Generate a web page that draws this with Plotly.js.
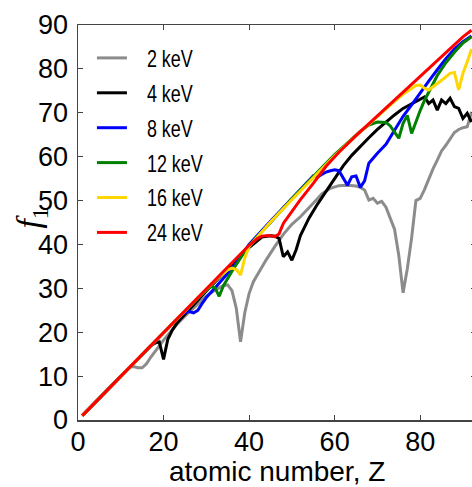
<!DOCTYPE html>
<html>
<head>
<meta charset="utf-8">
<script src="https://cdn.plot.ly/plotly-3.0.1.min.js"></script>
<style>
html,body{margin:0;padding:0;overflow:hidden;background:#fff;}
#chart{width:476px;height:487px;}
.legend .scrollbox{clip-path:none !important;}
.legendtext{transform-box:fill-box;transform-origin:left center;transform:scaleX(0.78);}
</style>
</head>
<body>
<div id="chart"></div>
<script>
// Series labels and colours
const seriesNames = ["2 keV", "4 keV", "8 keV", "12 keV", "16 keV", "24 keV"];
const seriesColors = ["#8c8c8c", "#000000", "#0000ff", "#008000", "#ffd700", "#ff0000"];

// 2 keV
const z2 = [1,5,10,12,13,14,15,16,17,18,19,20,22,24,26,28,30,32,34,35,36,37,38,39,40,41,42,44,46,48,50,52,55,57,59,61,63,65,66,67,68,69,70,71,72,73,74,75,76,77,78,79,80,81,82,83,84,85,86,87,88,89,90,91,92];
const f2 = [1,5,10,12.0,12.2,11.9,11.9,12.8,14.3,15.6,17.0,18.2,20.5,22.7,24.6,26.5,28.2,29.6,30.6,30.8,29.5,25.5,17.8,24.5,28.8,31.5,33.2,36.5,39.5,42.3,44.6,46.3,49.4,51.5,52.8,53.4,53.5,53.3,53.0,52.4,50.1,50.5,49.4,49.8,48.5,46.0,43.5,37.5,29.0,34.5,41.5,50.0,50.5,52.5,55.0,57.2,59.2,61.3,62.6,64.2,65.5,66.2,66.6,66.8,70.2];

// 4 keV
const z4 = [1,5,10,15,17,18,19,20,21,22,23,24,26,28,30,35,40,43,44,45,46,47,48,49,50,51,52,54,56,58,60,62,64,66,68,70,72,74,76,78,80,81,82,83,84,85,86,87,88,89,90,91,92];
const f4 = [1,5,10,15,16.9,17.5,17.8,13.8,18.4,20.4,21.9,23.0,25.2,27.3,29.4,34.4,39.3,41.7,41.9,42.0,41.9,41.4,37.2,38.3,36.4,38.8,42.0,46.0,49.2,52.2,55.2,57.9,60.3,62.4,64.3,66.2,67.9,69.5,71.0,72.0,73.0,73.6,72.1,72.9,70.6,72.9,72.1,73.3,71.4,71.0,68.7,69.9,67.9];

// 8 keV
const z8 = [1,5,10,15,20,23,24,25,26,27,28,29,30,32,34,36,38,40,45,50,55,56,57,58,59,60,61,62,63,64,65,66,67,68,70,72,74,76,78,80,82,84,86,88,90,92];
const f8 = [1,5,10,15,20,23.0,23.8,24.5,24.7,24.4,25.0,26.5,27.9,30.1,32.2,34.5,37.2,40.0,45.3,50.5,55.6,55.4,56.0,56.5,56.8,57.0,56.8,55.2,53.5,55.4,55.6,53.0,54.5,58.5,60.8,62.8,66.0,69.2,71.8,74.6,77.2,79.8,82.3,84.5,86.2,87.5];

// 12 keV
const z12 = [1,5,10,15,20,25,28,30,31,32,33,34,35,36,38,40,45,50,55,60,64,66,68,70,72,73,74,75,76,77,78,79,80,81,82,84,86,88,90,92];
const f12 = [1,5,10,15,20,25,27.8,29.6,30.4,30.2,28.2,30.6,32.3,33.9,36.9,39.8,45.0,50.4,55.5,60.5,64.0,65.8,67.2,67.9,67.8,67.0,65.6,64.2,67.6,69.4,65.3,68.0,70.5,72.8,74.8,78.5,81.4,83.8,85.9,87.3];

// 16 keV
const z16 = [1,5,10,15,20,25,30,33,35,36,37,38,39,40,42,45,50,55,60,65,70,74,76,78,79,80,81,82,83,85,87,88,89,90,91,92];
const f16 = [1,5,10,15,20,25,29.8,32.6,34.2,34.6,34.3,33.0,37.0,39.5,41.8,45.1,50.2,55.2,60.2,64.8,69.2,72.6,74.2,75.6,76.2,76.3,75.6,75.2,75.9,77.4,79.0,79.2,75.2,79.0,81.6,84.5];

// 24 keV
const z24 = [1,5,10,15,20,25,30,35,38,40,42,43,44,45,46,47,48,50,52,55,58,61,65,70,75,80,85,88,90,92];
const f24 = [1,5,10,15,20,25,30,35,38,39.8,41.4,41.9,42.0,42.0,41.8,42.4,44.8,47.6,50.2,53.9,57.8,61.0,64.8,69.3,73.8,78.2,82.8,85.6,87.3,88.8];

const xs = [z2, z4, z8, z12, z16, z24];
const ys = [f2, f4, f8, f12, f16, f24];

const xTicks = [0, 20, 40, 60, 80];
const yTicks = [0, 10, 20, 30, 40, 50, 60, 70, 80, 90];
const xTitle = "atomic number, Z";
const yTitle = "<i>f</i><sub>1</sub>";

const traces = seriesNames.map((n, i) => ({
  type: "scatter",
  mode: "lines",
  name: n,
  legendgroup: "g" + i,
  x: xs[i],
  y: ys[i],
  line: {color: seriesColors[i], width: 3},
  hoverinfo: "skip"
}));

const tickFont = {family: "Liberation Sans, sans-serif", size: 27, color: "#000"};
const axisColor = "#444";

const layout = {
  width: 476,
  height: 487,
  margin: {l: 78, r: 0, t: 25, b: 67, pad: 0},
  paper_bgcolor: "#fff",
  plot_bgcolor: "#fff",
  showlegend: true,
  legend: {
    x: 0.035, y: 0.971, xanchor: "left", yanchor: "top",
    bgcolor: "rgba(0,0,0,0)",
    font: {family: "Liberation Sans, sans-serif", size: 23, color: "#000"},
    tracegroupgap: 2
  },
  xaxis: {
    range: [0, 93.05],
    tickvals: xTicks,
    ticktext: xTicks.map(String),
    ticks: "inside",
    ticklen: 5,
    tickwidth: 1,
    tickcolor: axisColor,
    showline: true,
    linecolor: axisColor,
    linewidth: 1.5,
    mirror: "ticks",
    showgrid: false,
    zeroline: false,
    tickfont: tickFont,
    ticklabelstandoff: -3
  },
  yaxis: {
    range: [0, 90],
    tickvals: yTicks,
    ticktext: yTicks.map(String),
    ticks: "inside",
    ticklen: 5,
    tickwidth: 1,
    tickcolor: axisColor,
    showline: true,
    linecolor: axisColor,
    linewidth: 1.5,
    mirror: "ticks",
    showgrid: false,
    zeroline: false,
    tickfont: tickFont,
    ticklabelstandoff: 3
  },
  annotations: [{
    text: yTitle,
    xref: "paper", yref: "paper",
    x: -0.118, y: 0.51,
    xanchor: "center", yanchor: "middle",
    textangle: -90,
    showarrow: false,
    font: {family: "Liberation Serif, serif", size: 34, color: "#000"}
  }, {
    text: xTitle,
    xref: "paper", yref: "paper",
    x: 0.5, y: -0.131,
    xanchor: "center", yanchor: "middle",
    showarrow: false,
    font: {family: "Liberation Sans, sans-serif", size: 28, color: "#000"}
  }]
};

Plotly.newPlot("chart", traces, layout, {displayModeBar: false, staticPlot: true}).then(() => {
  // widen the gap between each legend line sample and its label
  document.querySelectorAll(".legendtext").forEach(t => {
    const x0 = parseFloat(t.getAttribute("x") || "0");
    t.setAttribute("x", String(x0 + 15));
  });
});
</script>
</body>
</html>
